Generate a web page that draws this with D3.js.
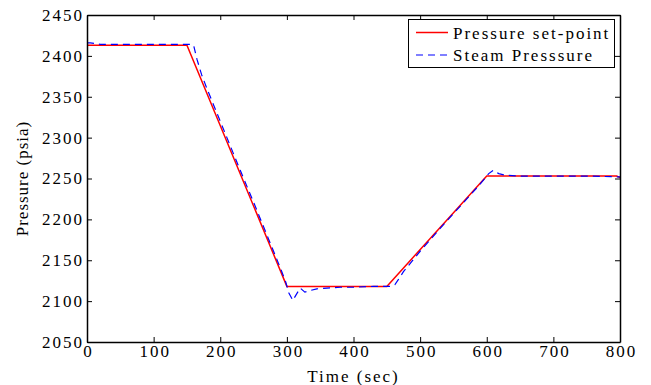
<!DOCTYPE html>
<html>
<head>
<meta charset="utf-8">
<script src="https://cdn.jsdelivr.net/npm/d3@7"></script>
<style>
  body { margin: 0; background: #fff; }
  svg { display: block; }
</style>
</head>
<body>
<div id="app"></div>
<script>
// set-point profile (time in sec, pressure in psia)
const setTime = [0, 150, 300, 450, 600, 795, 800]
const setValue = [2413, 2413, 2118, 2118, 2253, 2253, 2251]

const steamTime = [0, 5, 20, 60, 100, 140, 155, 160, 165, 172, 180, 195, 210, 230, 250, 270, 290, 298,
  303, 309, 314, 320, 327, 335, 345, 360, 380, 400, 430, 455, 462, 467, 475, 500, 530, 560, 590,
  603, 610, 618, 628, 650, 700, 750, 800]
const steamValue = [2416, 2416, 2414, 2414, 2414, 2414, 2414, 2413, 2396, 2377, 2360, 2330, 2300,
  2260, 2221, 2181, 2141, 2124, 2110, 2101, 2108, 2116, 2111, 2113, 2115, 2116, 2117, 2117, 2118,
  2118, 2120, 2126, 2136, 2161, 2189, 2216, 2243, 2256, 2260, 2256, 2254, 2253, 2253, 2253, 2252]

const xTicks = [0, 100, 200, 300, 400, 500, 600, 700, 800]
const yTicks = [2050, 2100, 2150, 2200, 2250, 2300, 2350, 2400, 2450]
const seriesNames = ["Pressure set-point", "Steam Presssure"]

const W = 651, H = 385
const m = { left: 87, right: 31, top: 15, bottom: 43 }
const serif = "Liberation Serif"

const fx = d3.scaleLinear().domain([0, 800]).range([m.left, W - m.right])
const fy = d3.scaleLinear().domain([2050, 2450]).range([H - m.bottom, m.top])

const svg = d3.select("#app").append("svg")
  .attr("width", W)
  .attr("height", H)

// lines first, frame on top
const line = d3.line().x(d => fx(d[0])).y(d => fy(d[1]))

svg.append("path")
  .datum(setTime.map((t, i) => [t, setValue[i]]))
  .attr("d", line)
  .attr("fill", "none")
  .attr("stroke", "#ff0000")
  .attr("stroke-width", 1.5)

svg.append("path")
  .datum(steamTime.map((t, i) => [t, steamValue[i]]))
  .attr("d", line)
  .attr("fill", "none")
  .attr("stroke", "#0000ff")
  .attr("stroke-width", 1.2)
  .attr("stroke-dasharray", "7,5")

// axes, ticks inside like matlab
const tickLen = 5
const fmt = d3.format("d")
const gx = svg.append("g")
  .attr("transform", `translate(0,${H - m.bottom})`)
  .call(d3.axisBottom(fx).tickValues(xTicks).tickFormat(fmt).tickSize(-tickLen).tickPadding(3).tickSizeOuter(0))
svg.append("g")
  .attr("transform", `translate(0,${m.top})`)
  .call(d3.axisTop(fx).tickValues(xTicks).tickSize(-tickLen).tickFormat("").tickSizeOuter(0))
const gy = svg.append("g")
  .attr("transform", `translate(${m.left},0)`)
  .call(d3.axisLeft(fy).tickValues(yTicks).tickFormat(fmt).tickSize(-tickLen).tickPadding(5).tickSizeOuter(0))
svg.append("g")
  .attr("transform", `translate(${W - m.right},0)`)
  .call(d3.axisRight(fy).tickValues(yTicks).tickSize(-tickLen).tickFormat("").tickSizeOuter(0))

svg.selectAll(".domain").attr("stroke", "#000").attr("stroke-width", 1.5)
svg.selectAll(".tick line").attr("stroke", "#000").attr("stroke-width", 1)
svg.selectAll(".tick text")
  .attr("font-family", serif)
  .attr("font-size", 17)
  .attr("fill", "#000")
  .style("letter-spacing", "2px")
gx.selectAll(".tick text").attr("dx", 1)
gy.selectAll(".tick text").attr("dx", 2)

// axis titles
svg.append("text")
  .attr("x", fx(400))
  .attr("y", 382)
  .attr("text-anchor", "middle")
  .attr("font-family", serif)
  .attr("font-size", 17)
  .style("letter-spacing", "2px")
  .text("Time (sec)")

svg.append("text")
  .attr("transform", `translate(28,${fy(2250)}) rotate(-90)`)
  .attr("text-anchor", "middle")
  .attr("font-family", serif)
  .attr("font-size", 17)
  .style("letter-spacing", "1px")
  .text("Pressure (psia)")

// legend
const lg = svg.append("g")
lg.append("rect")
  .attr("x", 408.5).attr("y", 19.5)
  .attr("width", 206).attr("height", 48)
  .attr("fill", "#fff")
  .attr("stroke", "#000")
  .attr("stroke-width", 1)

const legendStyles = [
  { color: "#ff0000", dash: null, w: 1.5 },
  { color: "#0000ff", dash: "7,5", w: 1.2 }
]
seriesNames.forEach((name, i) => {
  const y = 32.5 + i * 22.5
  lg.append("line")
    .attr("x1", 416).attr("x2", 448)
    .attr("y1", y).attr("y2", y)
    .attr("stroke", legendStyles[i].color)
    .attr("stroke-width", legendStyles[i].w)
    .attr("stroke-dasharray", legendStyles[i].dash)
  lg.append("text")
    .attr("x", 453)
    .attr("y", y + 6)
    .attr("font-family", serif)
    .attr("font-size", 17)
    .style("letter-spacing", "2px")
    .text(name)
})
</script>
</body>
</html>
